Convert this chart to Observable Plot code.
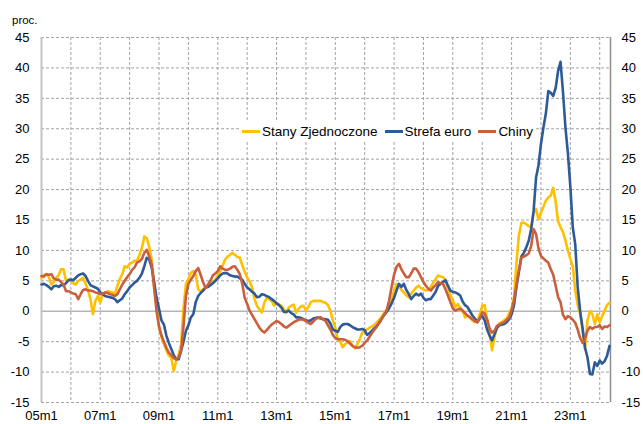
<!DOCTYPE html>
<html><head><meta charset="utf-8">
<script src="https://cdn.jsdelivr.net/npm/d3@7"></script>
<script src="https://cdn.jsdelivr.net/npm/@observablehq/plot@0.6"></script>
<style>
body{margin:0;background:#fff;font-family:"Liberation Sans",Arial,sans-serif;}
#wrap{position:relative;width:643px;height:424px;overflow:hidden;}
#unit{position:absolute;left:12px;top:14px;font-size:11.5px;color:#000;}
#legend{position:absolute;left:241px;top:121px;height:20px;background:#fff;display:flex;align-items:center;font-size:13.5px;color:#000;padding:0 3px 0 1px;}
#legend .it{display:flex;align-items:center;margin-right:7px;}
#legend .sw{display:inline-block;width:18px;height:3px;margin-right:2px;}
</style></head><body>
<div id="wrap"><div id="chart"></div><div id="unit">proc.</div><div id="legend"></div></div>
<script>
const startYear = 2005;
const seriesNames = ["Stany Zjednoczone", "Strefa euro", "Chiny"];
const seriesColors = ["#FFC000", "#2E5A97", "#CA5F3E"];
const usa = [
 5.5, 6.0, 6.1, 5.6, 4.4, 4.8, 5.5, 5.9, 6.9, 6.9, 5.0, 5.2,
 5.0, 4.6, 4.4, 5.0, 5.2, 5.5, 4.6, 3.5, 2.0, -0.5, 1.7, 2.5,
 1.4, 2.8, 3.0, 3.3, 3.2, 3.1, 2.8, 4.2, 5.3, 6.1, 7.4, 7.2,
 7.8, 8.0, 8.3, 8.3, 9.2, 10.4, 12.3, 12.0, 10.6, 8.5, 4.5, 0.8,
 -2.7, -4.2, -5.4, -6.4, -7.3, -7.6, -9.8, -8.2, -7.2, -5.5, 0.5, 4.5,
 5.3, 6.3, 6.6, 6.0, 3.6, 3.3, 3.6, 3.9, 4.1, 4.4, 4.8, 5.2,
 5.9, 6.6, 7.5, 8.5, 9.0, 9.3, 9.6, 9.3, 8.9, 8.8, 7.6, 6.5,
 5.5, 4.9, 3.9, 2.0, 0.9, 0.3, -0.2, 1.4, 2.2, 2.0, 1.7, 0.9,
 1.4, 1.1, 0.9, 0.3, -0.2, 0.6, 0.9, 1.1, -0.2, 0.4, 0.8, 0.9,
 0.1, 0.7, 1.5, 1.7, 1.7, 1.7, 1.7, 1.5, 1.4, 1.0, 0.1, -1.5,
 -2.7, -4.6, -5.0, -5.9, -5.4, -5.1, -4.9, -5.7, -6.1, -5.4, -4.6, -3.5,
 -3.2, -3.0, -2.7, -2.5, -2.2, -1.8, -1.4, -0.9, -0.2, 0.2, 1.0, 2.0,
 3.3, 4.5, 4.2, 3.5, 3.1, 2.6, 2.3, 2.9, 3.4, 3.9, 4.2, 3.8,
 3.6, 3.4, 3.5, 4.0, 4.7, 5.3, 5.9, 5.7, 5.6, 5.1, 3.9, 2.6,
 1.8, 0.7, 1.2, 0.6, 0.1, -1.0, -0.7, -1.0, -1.5, -1.8, -1.5, -0.5,
 0.9, 1.0, -1.5, -3.5, -6.4, -4.3, -2.6, -2.0, -1.8, -1.5, -1.2, -0.4,
 0.5, 2.3, 8.0, 12.5, 14.5, 14.6, 14.3, 14.0, 13.8, 16.2, 16.8, 15.1,
 16.2, 17.2, 18.2, 18.7, 19.0, 20.3, 18.0, 14.8, 13.8, 13.0, 11.6, 10.0,
 8.6, 7.4, 3.5, 1.0, -0.4, -3.2, -6.2, -1.5, 0.0, -0.5, -2.1, -0.5,
 -1.8, -0.8, 0.1, 1.0, 1.4
];
const euro = [
 4.4, 4.5, 4.3, 4.0, 3.6, 4.1, 4.2, 4.0, 4.3, 4.3, 4.6, 5.1,
 5.2, 5.1, 5.5, 5.9, 6.1, 6.2, 5.8, 5.0, 4.3, 4.1, 3.9, 3.7,
 3.1, 2.8, 2.5, 2.4, 2.3, 2.2, 2.0, 1.5, 1.8, 2.1, 2.8, 3.3,
 3.9, 4.3, 4.7, 5.0, 5.5, 6.2, 7.4, 8.8, 8.5, 7.2, 4.8, 2.2,
 0.4, -1.5, -2.2, -4.0, -5.2, -6.2, -7.2, -7.9, -7.9, -6.5, -5.0, -3.2,
 -2.3, -1.0, -0.5, 1.5, 2.5, 3.0, 3.4, 3.9, 4.0, 4.3, 4.6, 5.0,
 5.4, 5.9, 6.2, 6.3, 6.2, 5.9, 5.8, 5.7, 5.7, 5.4, 5.2, 4.5,
 3.9, 3.6, 3.2, 2.9, 2.3, 2.4, 2.8, 2.7, 2.5, 2.3, 2.0, 1.7,
 1.3, 1.0, 0.6, -0.1, -0.1, 0.1, -0.3, -0.5, -1.0, -1.0, -1.1, -1.3,
 -1.5, -1.6, -1.5, -1.2, -1.1, -1.0, -1.2, -1.3, -1.3, -1.4, -2.0, -3.0,
 -3.2, -3.4, -2.6, -2.2, -2.1, -2.1, -2.3, -2.6, -2.8, -3.0, -3.0, -2.9,
 -3.1, -3.9, -3.6, -3.2, -2.8, -2.4, -1.9, -1.2, -0.6, -0.1, 0.5, 1.3,
 2.2, 3.4, 4.5, 4.0, 4.5, 3.5, 2.8, 2.0, 2.5, 2.9, 2.6, 2.9,
 2.2, 1.8, 2.0, 2.0, 2.6, 3.2, 4.2, 4.5, 4.8, 5.1, 4.2, 3.4,
 3.2, 3.1, 2.9, 2.6, 1.6, 1.0, 0.7, 0.0, -0.7, -1.2, -1.8, -1.2,
 -0.7, -1.5, -3.0, -4.0, -4.8, -3.8, -2.8, -2.3, -2.2, -2.1, -1.8, -1.3,
 -0.5, 1.0, 4.0, 6.5, 9.0, 9.6, 10.5, 11.6, 13.5, 16.5, 22.0, 24.0,
 27.5, 30.2, 32.5, 36.2, 35.9, 35.4, 36.7, 39.5, 41.0, 36.0, 30.2, 26.0,
 20.5, 13.8, 11.0, 4.0, 0.0, -2.8, -6.0, -7.6, -10.3, -10.4, -8.4, -9.0,
 -8.1, -8.6, -8.2, -7.3, -5.7
];
const china = [
 5.8, 5.7, 6.1, 6.0, 6.1, 5.4, 5.2, 5.2, 4.8, 4.4, 3.3, 3.3,
 3.1, 2.9, 2.8, 2.0, 2.8, 3.5, 3.6, 3.4, 3.4, 3.3, 3.1, 3.0,
 2.8, 2.9, 3.1, 3.0, 2.8, 2.7, 2.5, 2.8, 3.6, 4.4, 5.0, 5.6,
 6.1, 6.8, 7.2, 8.0, 8.2, 8.6, 9.6, 10.1, 9.0, 7.7, 3.8, 0.0,
 -2.5, -4.0, -5.0, -6.0, -6.8, -7.2, -7.7, -7.9, -7.6, -6.5, -2.5, 2.5,
 4.5, 5.2, 5.8, 6.6, 7.1, 6.0, 4.8, 3.8, 4.4, 5.0, 5.9, 6.2,
 6.6, 7.4, 7.0, 6.8, 6.8, 7.0, 7.3, 7.4, 6.8, 6.1, 4.5, 2.2,
 1.2, 0.1, -0.6, -1.3, -2.0, -2.7, -3.2, -3.5, -3.1, -2.6, -2.2, -1.9,
 -1.6, -1.8, -2.1, -2.5, -2.7, -2.4, -2.1, -1.8, -1.6, -1.4, -1.3, -1.4,
 -1.6, -1.9, -2.1, -1.7, -1.3, -1.1, -1.0, -1.3, -1.6, -2.3, -3.0, -3.9,
 -4.4, -4.6, -4.6, -4.6, -4.7, -4.9, -5.3, -5.7, -5.9, -6.0, -5.9, -5.7,
 -5.2, -4.8, -4.2, -3.6, -3.0, -2.5, -1.8, -1.2, -0.6, 0.2, 1.8, 4.0,
 6.0, 7.3, 7.8, 6.9, 6.2, 5.6, 5.6, 6.2, 7.0, 7.0, 6.4, 5.6,
 4.8, 4.2, 3.7, 3.4, 3.9, 4.3, 4.8, 4.6, 4.5, 3.6, 2.6, 1.5,
 0.5, 0.1, 0.3, 0.4, 0.1, -0.3, -0.7, -1.0, -1.3, -1.6, -1.8, -1.2,
 -0.2, -0.4, -1.3, -2.8, -3.5, -3.2, -2.4, -2.2, -2.0, -1.8, -1.4, -1.0,
 0.2, 1.8, 4.4, 6.8, 8.8, 9.0, 9.2, 9.5, 10.7, 13.5, 12.7, 10.3,
 9.1, 8.7, 8.3, 8.0, 6.9, 6.0, 4.2, 2.3, 1.5, -0.6, -1.3, -0.8,
 -1.0, -1.4, -1.9, -3.0, -4.4, -5.2, -4.5, -3.2, -2.6, -2.9, -2.6, -2.6,
 -2.3, -2.9, -2.5, -2.6, -2.3
];
const yTicks = [-15, -10, -5, 0, 5, 10, 15, 20, 25, 30, 35, 40, 45];
const xTickLabels = ["05m1","07m1","09m1","11m1","13m1","15m1","17m1","19m1","21m1","23m1"];
const gridYears = [2006,2007,2008,2009,2010,2011,2012,2013,2014,2015,2016,2017,2018,2019,2020,2021,2022,2023,2024];

const seriesData = [usa, euro, china];
const rows = [];
seriesData.forEach((arr, k) => arr.forEach((v, i) => rows.push({m: i, v, s: seriesNames[k]})));
const lastM = usa.length - 1;
const xMax = lastM + 0.4;
const monthOf = y => (y - startYear) * 12;
const labelPos = xTickLabels.map((l, i) => monthOf(startYear) + i * 24);
const fmt = d => String(d);
const gridStyle = {stroke: "#a3a3a3", strokeOpacity: 1, strokeDasharray: "3,2", strokeWidth: 1};

const chart = Plot.plot({
  width: 643, height: 424,
  marginLeft: 41, marginRight: 33, marginTop: 37, marginBottom: 22,
  style: {fontFamily: "'Liberation Sans', Arial, sans-serif", fontSize: "13px", color: "#000", background: "#fff", overflow: "visible"},
  x: {domain: [0, xMax], axis: null},
  y: {domain: [yTicks[0], yTicks[yTicks.length - 1]], axis: null},
  color: {domain: seriesNames, range: seriesColors},
  marks: [
    Plot.gridY(yTicks.filter(d => d !== 0), gridStyle),
    Plot.gridX(gridYears.map(monthOf), gridStyle),
    Plot.ruleY([0], {stroke: "#b5b5b5", strokeWidth: 1.5}),
    Plot.ruleX([0], {stroke: "#c4c4c4", strokeWidth: 2}),
    Plot.ruleX([xMax], {stroke: "#8f8f8f", strokeWidth: 1.5}),
    Plot.axisY({anchor: "left", ticks: yTicks, tickSize: 0, tickPadding: 12, tickFormat: fmt, fill: "#000", label: null}),
    Plot.axisY({anchor: "right", ticks: yTicks, tickSize: 0, tickPadding: 11, tickFormat: fmt, fill: "#000", label: null}),
    Plot.axisX({ticks: labelPos, tickSize: 0, tickPadding: 8, tickFormat: (d) => xTickLabels[labelPos.indexOf(d)], fill: "#000", label: null}),
    Plot.line(rows, {x: "m", y: "v", z: "s", stroke: "s", strokeWidth: 2.6, strokeLinejoin: "round"})
  ]
});
document.getElementById("chart").appendChild(chart);

const legend = document.getElementById("legend");
seriesNames.forEach((n, i) => {
  const it = document.createElement("span");
  it.className = "it";
  const sw = document.createElement("span");
  sw.className = "sw";
  sw.style.background = seriesColors[i];
  it.appendChild(sw);
  it.appendChild(document.createTextNode(n));
  legend.appendChild(it);
});
legend.lastChild.style.marginRight = "0";
</script>
</body></html>
